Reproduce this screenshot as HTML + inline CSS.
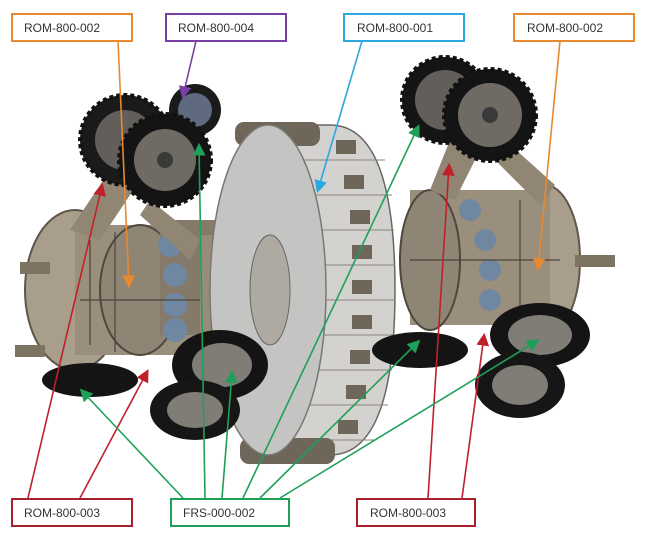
<!DOCTYPE html>
<html><head><meta charset="utf-8"><style>
html,body{margin:0;padding:0;background:#fff;}
svg{display:block;}
text{font-family:"Liberation Sans",sans-serif;font-size:12px;fill:#333;}
</style></head><body>
<svg width="649" height="539" viewBox="0 0 649 539" xmlns="http://www.w3.org/2000/svg">
<defs>
<marker id="ag" markerWidth="8" markerHeight="8" refX="6" refY="4" orient="auto"><path d="M0,0 L8,4 L0,8 z" fill="#1fa05a"/></marker>
<marker id="ar" markerWidth="8" markerHeight="8" refX="6" refY="4" orient="auto"><path d="M0,0 L8,4 L0,8 z" fill="#c0202a"/></marker>
<marker id="ao" markerWidth="8" markerHeight="8" refX="6" refY="4" orient="auto"><path d="M0,0 L8,4 L0,8 z" fill="#e8892f"/></marker>
<marker id="ap" markerWidth="8" markerHeight="8" refX="6" refY="4" orient="auto"><path d="M0,0 L8,4 L0,8 z" fill="#7a3fa6"/></marker>
<marker id="ab" markerWidth="8" markerHeight="8" refX="6" refY="4" orient="auto"><path d="M0,0 L8,4 L0,8 z" fill="#2aa8df"/></marker>
</defs>
<!-- left body -->
<ellipse cx="75" cy="290" rx="50" ry="80" fill="#a99e8c" stroke="#5e564a" stroke-width="2"/>
<rect x="75" y="225" width="140" height="130" fill="#9a8f7d"/>
<ellipse cx="140" cy="290" rx="40" ry="65" fill="#8f8574" stroke="#4e473e" stroke-width="2"/>
<rect x="160" y="220" width="60" height="115" fill="#85796a"/>
<circle cx="170" cy="245" r="12" fill="#6f87a0"/><circle cx="175" cy="275" r="12" fill="#6f87a0"/><circle cx="175" cy="305" r="12" fill="#6f87a0"/><circle cx="175" cy="330" r="12" fill="#6f87a0"/>
<path d="M70,230 L110,170 L140,180 L100,240z" fill="#918674"/>
<path d="M150,200 L200,240 L190,260 L140,215z" fill="#918674"/>
<rect x="20" y="262" width="30" height="12" fill="#7d7363"/><rect x="15" y="345" width="30" height="12" fill="#7d7363"/>
<g stroke="#4a443b" stroke-width="1.2" fill="none"><line x1="90" y1="240" x2="90" y2="345"/><line x1="115" y1="232" x2="115" y2="352"/><line x1="80" y1="300" x2="215" y2="300"/></g>
<!-- right body -->
<ellipse cx="545" cy="260" rx="35" ry="75" fill="#a99e8c" stroke="#5e564a" stroke-width="2"/>
<rect x="410" y="190" width="140" height="135" fill="#9a8f7d"/>
<ellipse cx="430" cy="260" rx="30" ry="70" fill="#8f8574" stroke="#4e473e" stroke-width="2"/>
<circle cx="470" cy="210" r="11" fill="#6f87a0"/><circle cx="485" cy="240" r="11" fill="#6f87a0"/><circle cx="490" cy="270" r="11" fill="#6f87a0"/><circle cx="490" cy="300" r="11" fill="#6f87a0"/>
<path d="M430,190 L450,140 L480,150 L455,200z" fill="#918674"/>
<path d="M505,140 L555,185 L540,205 L495,160z" fill="#918674"/>
<rect x="575" y="255" width="40" height="12" fill="#7d7363"/>
<g stroke="#4a443b" stroke-width="1.2" fill="none"><line x1="520" y1="200" x2="520" y2="320"/><line x1="410" y1="260" x2="560" y2="260"/></g>
<!-- central hub -->
<rect x="200" y="235" width="70" height="110" fill="#978c7a"/>
<!-- drum -->
<path d="M265,125 L330,125 Q395,125 395,290 Q395,455 330,455 L265,455z" fill="#d4d2cf" stroke="#666" stroke-width="1.5"/>
<g stroke="#8a867f" stroke-width="1">
<line x1="270" y1="160" x2="385" y2="160"/><line x1="270" y1="195" x2="392" y2="195"/><line x1="270" y1="230" x2="394" y2="230"/><line x1="270" y1="265" x2="395" y2="265"/><line x1="270" y1="300" x2="395" y2="300"/><line x1="270" y1="335" x2="394" y2="335"/><line x1="270" y1="370" x2="392" y2="370"/><line x1="270" y1="405" x2="388" y2="405"/><line x1="270" y1="440" x2="375" y2="440"/>
</g>
<g fill="#6e6658">
<rect x="336" y="140" width="20" height="14"/><rect x="344" y="175" width="20" height="14"/><rect x="350" y="210" width="20" height="14"/><rect x="352" y="245" width="20" height="14"/><rect x="352" y="280" width="20" height="14"/><rect x="352" y="315" width="20" height="14"/><rect x="350" y="350" width="20" height="14"/><rect x="346" y="385" width="20" height="14"/><rect x="338" y="420" width="20" height="14"/>
<rect x="235" y="122" width="85" height="24" rx="9"/><rect x="240" y="438" width="95" height="26" rx="9"/>
</g>
<ellipse cx="268" cy="290" rx="58" ry="165" fill="#c4c4c2" stroke="#777" stroke-width="1.5"/>
<ellipse cx="270" cy="290" rx="20" ry="55" fill="#aeaaa2" stroke="#666"/>
<!-- wheels -->
<g>
<circle cx="125" cy="140" r="45" fill="#1a1a1a" stroke="#111" stroke-width="4" stroke-dasharray="4 3"/><circle cx="125" cy="140" r="30" fill="#625f5a"/>
<circle cx="195" cy="110" r="26" fill="#1a1a1a"/><circle cx="195" cy="110" r="17" fill="#5f6a80"/>
<circle cx="165" cy="160" r="46" fill="#141414" stroke="#111" stroke-width="4" stroke-dasharray="4 3"/><circle cx="165" cy="160" r="31" fill="#6f6b64"/><circle cx="165" cy="160" r="8" fill="#3a3a3a"/>
<circle cx="445" cy="100" r="43" fill="#151515" stroke="#111" stroke-width="4" stroke-dasharray="4 3"/><circle cx="445" cy="100" r="30" fill="#625f5a"/>
<circle cx="490" cy="115" r="46" fill="#141414" stroke="#111" stroke-width="4" stroke-dasharray="4 3"/><circle cx="490" cy="115" r="32" fill="#6f6b64"/><circle cx="490" cy="115" r="8" fill="#3a3a3a"/>
<ellipse cx="220" cy="365" rx="48" ry="35" fill="#141414"/><ellipse cx="222" cy="365" rx="30" ry="22" fill="#807d76"/>
<ellipse cx="195" cy="410" rx="45" ry="30" fill="#161616"/><ellipse cx="195" cy="410" rx="28" ry="18" fill="#807d76"/>
<ellipse cx="90" cy="380" rx="48" ry="17" fill="#141414"/>
<ellipse cx="420" cy="350" rx="48" ry="18" fill="#141414"/>
<ellipse cx="540" cy="335" rx="50" ry="32" fill="#141414"/><ellipse cx="540" cy="335" rx="32" ry="20" fill="#807d76"/>
<ellipse cx="520" cy="385" rx="45" ry="33" fill="#161616"/><ellipse cx="520" cy="385" rx="28" ry="20" fill="#807d76"/>
</g>
<!-- connectors -->
<g fill="none" stroke-width="1.6">
<line x1="118" y1="41" x2="129" y2="285" stroke="#e8892f" marker-end="url(#ao)"/>
<line x1="560" y1="41" x2="538" y2="268" stroke="#e8892f" marker-end="url(#ao)"/>
<line x1="196" y1="41" x2="183" y2="96" stroke="#7a3fa6" marker-end="url(#ap)"/>
<line x1="362" y1="41" x2="318" y2="190" stroke="#2aa8df" marker-end="url(#ab)"/>
<g stroke="#c0202a" marker-end="url(#ar)">
<line x1="28" y1="498" x2="102" y2="186"/><line x1="80" y1="498" x2="147" y2="372"/>
<line x1="428" y1="498" x2="449" y2="166"/><line x1="462" y1="498" x2="484" y2="336"/>
</g>
<g stroke="#1fa05a" marker-end="url(#ag)">
<line x1="183" y1="498" x2="82" y2="391"/><line x1="205" y1="498" x2="199" y2="146"/><line x1="222" y1="498" x2="232" y2="373"/>
<line x1="243" y1="498" x2="418" y2="127"/><line x1="260" y1="498" x2="418" y2="342"/><line x1="280" y1="498" x2="537" y2="341"/>
</g>
</g>
<!-- labels -->
<g fill="#fff" stroke-width="2">
<rect x="12" y="14" width="120" height="27" stroke="#e8892f"/>
<rect x="166" y="14" width="120" height="27" stroke="#7a3fa6"/>
<rect x="344" y="14" width="120" height="27" stroke="#2aa8df"/>
<rect x="514" y="14" width="120" height="27" stroke="#e8892f"/>
<rect x="12" y="499" width="120" height="27" stroke="#a9202a"/>
<rect x="171" y="499" width="118" height="27" stroke="#1fa05a"/>
<rect x="357" y="499" width="118" height="27" stroke="#a9202a"/>
</g>
<text x="24" y="32">ROM-800-002</text>
<text x="178" y="32">ROM-800-004</text>
<text x="357" y="32">ROM-800-001</text>
<text x="527" y="32">ROM-800-002</text>
<text x="24" y="517">ROM-800-003</text>
<text x="183" y="517">FRS-000-002</text>
<text x="370" y="517">ROM-800-003</text>
</svg>
</body></html>
